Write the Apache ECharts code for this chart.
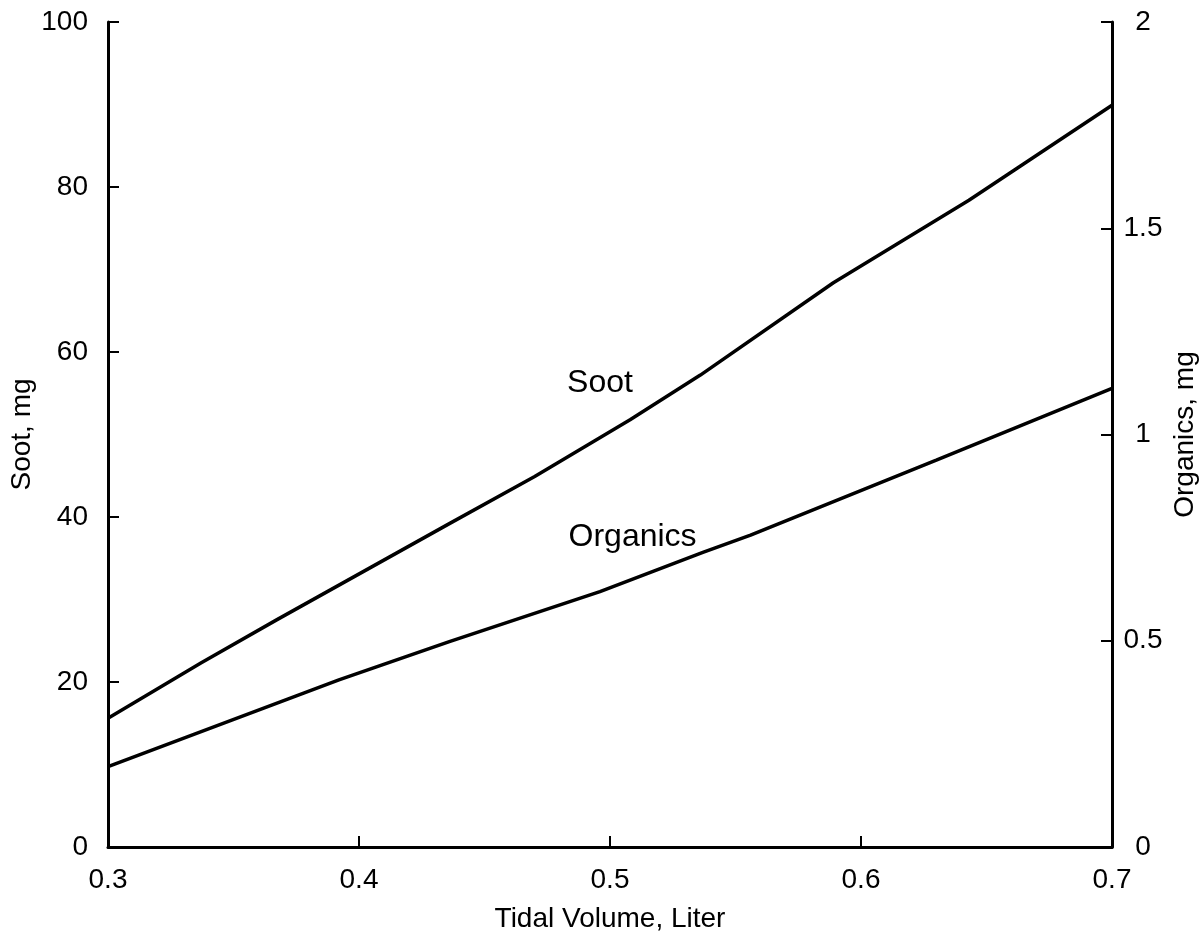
<!DOCTYPE html>
<html>
<head>
<meta charset="utf-8">
<script src="https://cdn.jsdelivr.net/npm/echarts@6/dist/echarts.min.js"></script>
<style>html,body{margin:0;padding:0;background:#fff;}#c{width:1204px;height:940px;}</style>
</head>
<body>
<div id="c"></div>
<script>
// Data
var sootX = [0.3, 0.337, 0.367, 0.436, 0.47, 0.508, 0.536, 0.589, 0.643, 0.7];
var sootY = [15.6, 22.3, 27.5, 39.2, 44.9, 51.8, 57.2, 68.4, 78.4, 89.9];
var organicsX = [0.3, 0.392, 0.436, 0.496, 0.537, 0.556, 0.63, 0.7];
var organicsY = [0.195, 0.405, 0.498, 0.619, 0.714, 0.756, 0.938, 1.112];
var seriesNames = ['Soot', 'Organics'];
var labelPos = [[0.496, 56.2], [0.509, 37.6]]; // text positions in (x, soot-axis) units
var xTitle = 'Tidal Volume, Liter';
var yLeftTitle = 'Soot, mg';
var yRightTitle = 'Organics, mg';

function pairs(xs, ys) { return xs.map(function (x, i) { return [x, ys[i]]; }); }

var font = 'Liberation Sans, Arial, sans-serif';
var axisCommon = {
  axisLine: { show: true, onZero: false, lineStyle: { color: '#000', width: 3 } },
  axisTick: { show: true, inside: true, length: 11, lineStyle: { color: '#000', width: 2 } },
  splitLine: { show: false },
  axisLabel: { color: '#000', fontSize: 28, fontFamily: font, margin: 20 },
  nameTextStyle: { color: '#000', fontSize: 28, fontFamily: font },
  nameMoveOverlap: false
};

var chart = echarts.init(document.getElementById('c'), null, { renderer: 'canvas' });
chart.setOption({
  animation: false,
  backgroundColor: '#fff',
  grid: { left: 108, right: 92, top: 22, bottom: 93, containLabel: false, outerBoundsMode: 'none' },
  xAxis: Object.assign({}, axisCommon, {
    type: 'value', min: 0.3, max: 0.7, interval: 0.1,
    name: xTitle, nameLocation: 'middle', nameGap: 58,
    axisLabel: Object.assign({}, axisCommon.axisLabel, { margin: 19, formatter: function (v) { return v.toFixed(1); } })
  }),
  yAxis: [
    Object.assign({}, axisCommon, {
      type: 'value', min: 0, max: 100, interval: 20, position: 'left',
      name: yLeftTitle, nameLocation: 'middle', nameGap: 72, nameRotate: 90
    }),
    Object.assign({}, axisCommon, {
      type: 'value', min: 0, max: 2, interval: 0.5, position: 'right',
      name: yRightTitle, nameLocation: 'middle', nameGap: 59, nameRotate: 90,
      axisLabel: Object.assign({}, axisCommon.axisLabel, { margin: 31, align: 'center' })
    })
  ],
  series: [
    {
      name: seriesNames[0], type: 'line', yAxisIndex: 0, data: pairs(sootX, sootY),
      showSymbol: false, symbol: 'none', lineStyle: { color: '#000', width: 3.5 },
      markPoint: {
        symbol: 'circle', symbolSize: 0, silent: true,
        label: { show: true, color: '#000', fontSize: 32, fontFamily: font, position: 'inside', formatter: '{b}' },
        data: [
          { name: seriesNames[0], coord: labelPos[0] },
          { name: seriesNames[1], coord: labelPos[1] }
        ]
      }
    },
    {
      name: seriesNames[1], type: 'line', yAxisIndex: 1, data: pairs(organicsX, organicsY),
      showSymbol: false, symbol: 'none', lineStyle: { color: '#000', width: 3.5 }
    }
  ]
});
</script>
</body>
</html>
